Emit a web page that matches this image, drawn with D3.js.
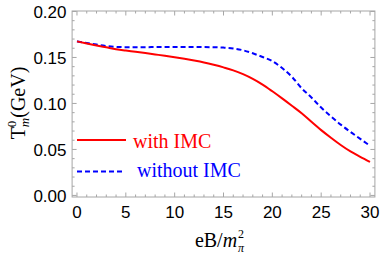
<!DOCTYPE html>
<html><head><meta charset="utf-8">
<script src="https://cdn.jsdelivr.net/npm/d3@7"></script>
<style>body{margin:0;background:#fff}svg{display:block}</style>
</head><body>
<svg id="c" width="382" height="255"></svg>
<script>
const eB = [0,1,2,3,4,5,6,7,8,9,10,11,12,13,14,15,16,17,18,19,20,21,22,23,24,25,26,27,28,29,30];
const withIMC = [0.1675,0.1652,0.1630,0.1610,0.1590,0.1575,0.1562,0.1548,0.1533,0.1518,0.1502,0.1485,0.1466,0.1445,0.1420,0.1392,0.1360,0.1318,0.1267,0.1205,0.1132,0.1055,0.0975,0.0893,0.0800,0.0710,0.0627,0.0548,0.0478,0.0420,0.0365];
const withoutIMC = [0.1675,0.1658,0.1640,0.1625,0.1615,0.1612,0.1612,0.1612,0.1613,0.1614,0.1614,0.1614,0.1614,0.1613,0.1611,0.1607,0.1598,0.1578,0.1545,0.1505,0.1460,0.1385,0.1290,0.1165,0.1065,0.0955,0.0860,0.0770,0.0690,0.0615,0.0540];
const xTicks = [0,5,10,15,20,25,30];
const yTicks = [0.00,0.05,0.10,0.15,0.20];
const yTickLabels = ["0.00","0.05","0.10","0.15","0.20"];
const legendLabels = ["with IMC","without IMC"];

const svg = d3.select("#c");
const L=72.1, R=374.9, T=11, B=197;
const x = d3.scaleLinear().domain([-0.5,30.5]).range([L,R]);
const y = d3.scaleLinear().domain([-0.0017,0.2005]).range([B,T]);
const frameCol = "#a6a6a6";

svg.append("rect").attr("x",L).attr("y",T).attr("width",R-L).attr("height",B-T)
  .attr("fill","none").attr("stroke",frameCol).attr("stroke-width",1);

const xMinor = d3.range(0,31,1).filter(v=>v%5!==0);
const yMinor = d3.range(0,21,1).filter(v=>v%5!==0).map(v=>v/100);

function ticks(g, scale, vals, len, orient){
  vals.forEach(v=>{
    const p = scale(v);
    if(orient==="bottom") g.append("line").attr("x1",p).attr("x2",p).attr("y1",B).attr("y2",B-len);
    if(orient==="top") g.append("line").attr("x1",p).attr("x2",p).attr("y1",T).attr("y2",T+len);
    if(orient==="left") g.append("line").attr("y1",p).attr("y2",p).attr("x1",L).attr("x2",L+len);
    if(orient==="right") g.append("line").attr("y1",p).attr("y2",p).attr("x1",R).attr("x2",R-len);
  });
}
const tg = svg.append("g").attr("stroke",frameCol).attr("stroke-width",1);
["bottom","top"].forEach(o=>{ticks(tg,x,xTicks,4.5,o);ticks(tg,x,xMinor,2.5,o);});
["left","right"].forEach(o=>{ticks(tg,y,yTicks,4.5,o);ticks(tg,y,yMinor,2.5,o);});

const lab = svg.append("g").attr("font-family","'Liberation Sans', Arial, sans-serif").attr("font-size",17).attr("fill","#000");
xTicks.forEach(v=>lab.append("text").attr("x",x(v)).attr("y",218).attr("text-anchor","middle").text(v));
yTicks.forEach((v,i)=>lab.append("text").attr("x",66.5).attr("y",y(v)).attr("dy","0.36em").attr("text-anchor","end").text(yTickLabels[i]));

const line = d3.line().x((d,i)=>x(eB[i])).y(d=>y(d)).curve(d3.curveMonotoneX);
svg.append("path").datum(withoutIMC).attr("d",line).attr("fill","none").attr("stroke","#0000ff").attr("stroke-width",2).attr("stroke-dasharray","5,3");
svg.append("path").datum(withIMC).attr("d",line).attr("fill","none").attr("stroke","#ff0000").attr("stroke-width",2);

const serif = "'Liberation Serif','Times New Roman',serif";
svg.append("line").attr("x1",77).attr("x2",126).attr("y1",140).attr("y2",140).attr("stroke","#ff0000").attr("stroke-width",2);
svg.append("text").attr("x",133).attr("y",148).attr("font-family",serif).attr("font-size",20).attr("fill","#ff0000").text(legendLabels[0]);
svg.append("line").attr("x1",77).attr("x2",124).attr("y1",171.5).attr("y2",171.5).attr("stroke","#0000ff").attr("stroke-width",2).attr("stroke-dasharray","5,3");
svg.append("text").attr("x",137).attr("y",177).attr("font-family",serif).attr("font-size",20).attr("fill","#0000ff").text(legendLabels[1]);

// x title: eB/m_pi^2
const xt = svg.append("text").attr("x",216).attr("y",247).attr("text-anchor","middle").attr("font-family",serif).attr("font-size",20).attr("fill","#000");
xt.append("tspan").text("eB/");
xt.append("tspan").attr("font-style","italic").text("m");
svg.append("text").attr("x",238).attr("y",238).attr("font-family",serif).attr("font-size",12).attr("fill","#000").text("2");
svg.append("text").attr("x",238).attr("y",252).attr("font-family",serif).attr("font-size",12).attr("font-style","italic").attr("fill","#000").text("π");

// y title: T^0_m(GeV)
const yt = svg.append("text").attr("transform","translate(25,103) rotate(-90)").attr("text-anchor","middle").attr("font-family",serif).attr("font-size",20).attr("fill","#000");
yt.append("tspan").text("T");
yt.append("tspan").attr("font-size",13).attr("dy",-9).text("0");
yt.append("tspan").attr("font-size",13).attr("font-style","italic").attr("dx",-6.5).attr("dy",13).text("m");
yt.append("tspan").attr("dy",-4).text("(GeV)");
</script>
</body></html>
